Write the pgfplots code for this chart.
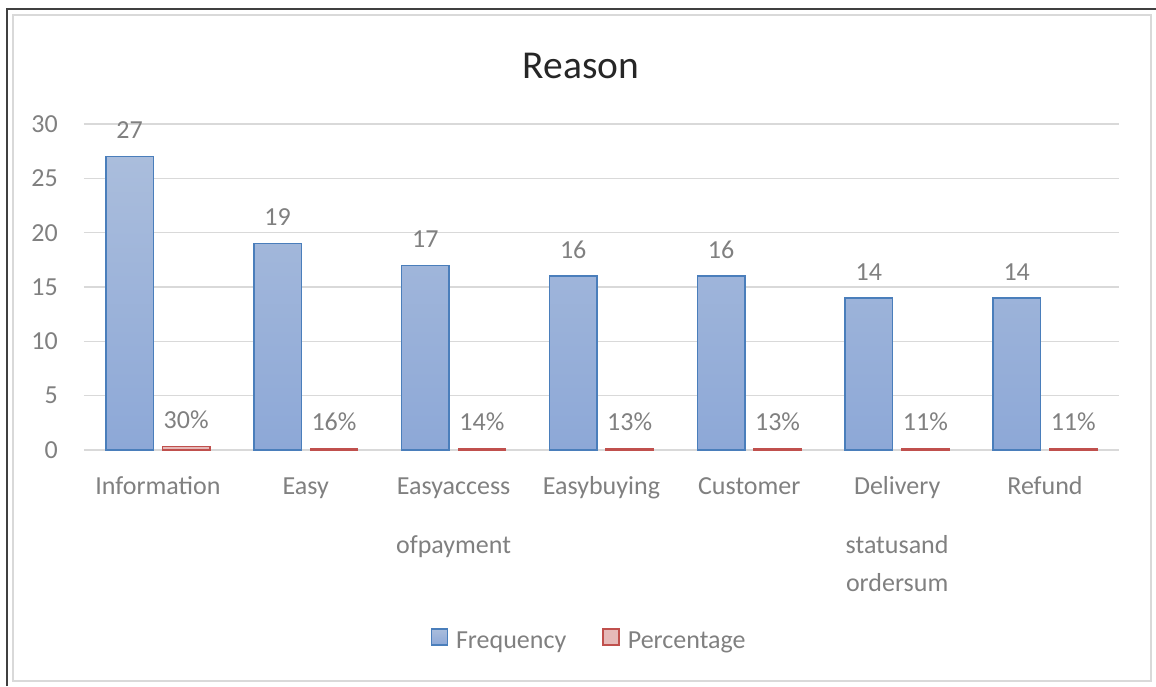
\documentclass[border=0pt]{standalone}
\usepackage{pgfplots}
\pgfplotsset{compat=1.18}
\usepackage{fontspec}
\setmainfont{Carlito}
\definecolor{txt}{RGB}{128,128,128}
\definecolor{gridc}{RGB}{217,217,217}
\definecolor{fborder}{RGB}{74,126,187}
\definecolor{ftop}{RGB}{170,189,220}
\definecolor{fbot}{RGB}{141,168,215}
\definecolor{flegend}{RGB}{198,213,236}
\definecolor{pborder}{RGB}{192,80,77}
\definecolor{pfill}{RGB}{230,185,184}
\begin{document}
\begin{tikzpicture}
\begin{axis}[anchor=south west, at={(0pt,0pt)}, scale only axis,
  width=1035pt, height=326pt,
  ybar=9pt, bar width=47.5pt,
  xmin=-0.5, xmax=6.5, ymin=0, ymax=30,
  ytick={0,5,...,30},
  xtick={0,...,6},
  xticklabels={\strut Information,\strut Easy,{\strut Easyaccess\\[21pt]ofpayment},\strut Easybuying,\strut Customer,{\strut Delivery\\[21pt]statusand\\ordersum},\strut Refund},
  /pgf/number format/assume math mode=true,
  axis line style={draw=none},
  major tick length=0pt,
  ymajorgrids, major grid style={gridc, line width=1.5pt},
  yticklabel style={font=\fontsize{26}{31}\selectfont, text=txt, anchor=east, inner sep=0pt, xshift=-26pt},
  xticklabel style={font=\fontsize{26}{38}\selectfont, text=txt, anchor=north, inner sep=0pt, yshift=-17.5pt, align=center},
  nodes near coords style={font=\fontsize{26}{31}\selectfont, text=txt, inner sep=0pt, anchor=south, yshift=17pt},
  legend columns=2,
  legend style={draw=none, fill=none, font=\fontsize{26}{31}\selectfont, text=txt,
    at={(0.488,-0.583)}, anchor=center, inner sep=0pt,
    /tikz/every odd column/.append style={column sep=6pt},
    /tikz/every even column/.append style={column sep=34pt}},
  clip=false,
]
\addplot[draw=fborder, line width=1.5pt, top color=ftop, bottom color=fbot,
  nodes near coords, point meta=y,
  legend image code/.code={\draw[fborder, fill=flegend, line width=1.5pt] (0pt,-4pt) rectangle (16pt,12pt);}]
  coordinates {(0,27) (1,19) (2,17) (3,16) (4,16) (5,14) (6,14)};
\addlegendentry{Frequency}
\addplot[draw=pborder, line width=1.2pt, fill=pfill,
  point meta={y*100},
  nodes near coords={\pgfmathprintnumber[fixed,precision=0]{\pgfplotspointmeta}\%},
  legend image code/.code={\draw[pborder, fill=pfill, line width=1.5pt] (0pt,-4pt) rectangle (16pt,12pt);}]
  coordinates {(0,0.30) (1,0.16) (2,0.14) (3,0.13) (4,0.13) (5,0.11) (6,0.11)};
\addlegendentry{Percentage}
\end{axis}
\draw[gridc, line width=2.5pt] (-71pt,-231pt) rectangle (1067pt,435pt);
\draw[black!75, line width=2pt] (-77pt,-236pt) -- (-77pt,441pt) -- (1072pt,441pt);
\node[font=\fontsize{39.5}{46}\selectfont, text=black!85, inner sep=0pt] at (497pt,384pt) {Reason};
\pgfresetboundingbox
\useasboundingbox (-84pt,-236pt) rectangle (1072pt,450pt);
\end{tikzpicture}
\end{document}
